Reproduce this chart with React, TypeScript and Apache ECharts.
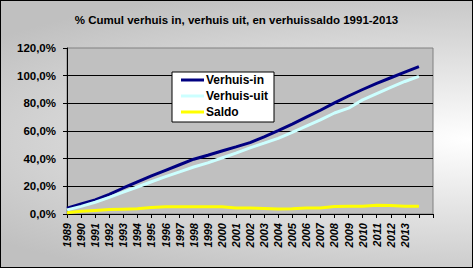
import React, { useEffect, useRef } from "react";
import * as echarts from "echarts";

const title = "% Cumul verhuis in, verhuis uit, en verhuissaldo 1991-2013";
const years = [
  "1989", "1990", "1991", "1992", "1993", "1994", "1995", "1996", "1997",
  "1998", "1999", "2000", "2001", "2002", "2003", "2004", "2005", "2006",
  "2007", "2008", "2009", "2010", "2011", "2012", "2013", "", "",
];
const seriesNames = ["Verhuis-in", "Verhuis-uit", "Saldo"];
const verhuisIn = [
  4.2, 7.2, 10.2, 14.2, 18.8, 23.3, 27.5, 31.6, 35.6, 39.6, 42.5, 45.5, 48.5,
  51.6, 55.7, 60.2, 65.0, 70.0, 75.0, 80.3, 85.3, 90.0, 94.5, 98.5, 102.5, 106.5,
];
const verhuisUit = [
  3.0, 5.5, 8.5, 12.0, 15.8, 19.5, 23.3, 27.0, 30.5, 34.0, 37.0, 40.5, 44.0,
  47.8, 51.2, 54.7, 59.0, 63.5, 68.0, 73.0, 76.5, 82.5, 87.0, 91.5, 95.8, 99.5,
];
const saldo = [
  0.9, 2.0, 2.6, 3.2, 3.5, 3.8, 4.7, 5.2, 5.3, 5.3, 5.3, 5.2, 4.4,
  4.3, 4.0, 3.6, 3.8, 4.3, 4.4, 5.4, 5.6, 5.6, 6.3, 6.2, 5.6, 5.6,
];
const colors = ["#000080", "#ccffff", "#ffff00"];

export default function App() {
  const ref = useRef<HTMLDivElement>(null);
  useEffect(() => {
    document.body.style.margin = "0";
    const chart = echarts.init(ref.current!, null, { renderer: "svg" });
    const font = "'Liberation Sans', Arial, sans-serif";
    const dataSets = [verhuisIn, verhuisUit, saldo];
    chart.setOption({
      animation: false,
      backgroundColor: "transparent",
      title: {
        text: title,
        left: "center",
        top: 14,
        padding: 0,
        textStyle: { fontFamily: font, fontSize: 11.5, fontWeight: "bold", color: "#000" },
      },
      legend: {
        orient: "vertical",
        left: 172,
        top: 72,
        padding: [1, 6, 3, 9],
        itemGap: 2,
        itemWidth: 23,
        itemHeight: 3,
        icon: "rect",
        backgroundColor: "#ffffff",
        borderColor: "#000000",
        borderWidth: 1,
        borderRadius: 0,
        data: seriesNames,
        textStyle: { fontFamily: font, fontSize: 12, fontWeight: "bold", color: "#000", lineHeight: 14, padding: [0, 0, 0, -3] },
      },
      grid: {
        left: 67,
        top: 48,
        right: 40,
        bottom: 54,
        show: true,
        backgroundColor: "#c0c0c0",
        borderColor: "#808080",
        borderWidth: 1,
      },
      xAxis: {
        type: "category",
        data: years,
        boundaryGap: false,
        axisLine: { lineStyle: { color: "#000", width: 1 } },
        axisTick: { show: true, length: 4, interval: 0, lineStyle: { color: "#000" } },
        axisLabel: {
          interval: 0,
          rotate: 90,
          margin: 9,
          fontFamily: font,
          fontSize: 11,
          fontWeight: "bold",
          fontStyle: "italic",
          color: "#000",
          padding: [0, 0, 8, 0],
        },
        splitLine: { show: false },
      },
      yAxis: {
        type: "value",
        min: 0,
        max: 120,
        interval: 20,
        axisLine: { show: true, lineStyle: { color: "#000", width: 1 } },
        axisTick: { show: true, length: 4, lineStyle: { color: "#000" } },
        axisLabel: {
          margin: 11,
          fontFamily: font,
          fontSize: 11.5,
          fontWeight: "bold",
          color: "#000",
          formatter: (v: number) => v.toFixed(1).replace(".", ",") + "%",
        },
        splitLine: { show: true, showMaxLine: false, lineStyle: { color: "#000", width: 1 } },
      },
      series: seriesNames.map((name, i) => ({
        name,
        type: "line",
        data: dataSets[i],
        showSymbol: false,
        symbol: "none",
        color: colors[i],
        lineStyle: { color: colors[i], width: 3 },
      })),
    });
    return () => chart.dispose();
  }, []);
  return (
    <div
      style={{
        position: "relative",
        width: 473,
        height: 268,
        background:
          "radial-gradient(ellipse 130% 60% at 100% 52%, #ffffff 0%, #c0c0c0 100%)",
      }}
    >
      <div ref={ref} style={{ position: "absolute", left: 0, top: 0, width: 473, height: 268 }} />
      <div
        style={{
          position: "absolute",
          left: 0,
          top: 0,
          width: 473,
          height: 268,
          boxSizing: "border-box",
          border: "1px solid #000",
          pointerEvents: "none",
        }}
      />
    </div>
  );
}
